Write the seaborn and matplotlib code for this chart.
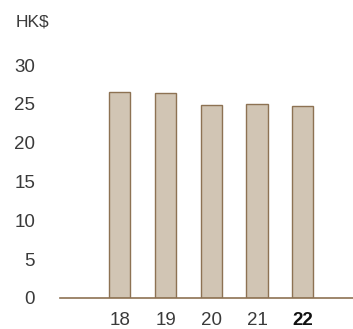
import matplotlib
matplotlib.use("Agg")
import matplotlib.pyplot as plt
import seaborn as sns
import pandas as pd

years = ["18", "19", "20", "21", "22"]
values = [26.5, 26.4, 24.8, 25.0, 24.7]
y_ticks = [0, 5, 10, 15, 20, 25, 30]
unit = "HK$"

sns.set_style("white")
plt.rcParams["font.family"] = ["Liberation Sans", "DejaVu Sans"]

df = pd.DataFrame({"year": years, "value": values})

fig = plt.figure(figsize=(3.53, 3.29), dpi=100)
ax = fig.add_axes([60 / 353, 31 / 329, 293 / 353, 233 / 329])

sns.barplot(data=df, x="year", y="value", ax=ax, width=0.46,
            color="#d1c5b4", edgecolor="#8d7253", linewidth=1.0,
            saturation=1)

ax.set_xlim(-1.31, 5.1)
ax.set_ylim(0, 30)
ax.set_yticks(y_ticks)
ax.set_yticklabels([str(t) for t in y_ticks])
ax.set_xlabel("")
ax.set_ylabel("")
for s in ["top", "right", "left"]:
    ax.spines[s].set_visible(False)
ax.spines["bottom"].set_color("#8d7253")
ax.spines["bottom"].set_linewidth(1.2)
ax.tick_params(axis="both", length=0, labelsize=13.5, colors="#3a3a3a")
ax.tick_params(axis="y", pad=18)
ax.tick_params(axis="x", pad=10)
for lab in ax.get_xticklabels():
    if lab.get_text() == years[-1]:
        lab.set_fontweight("bold")
        lab.set_color("#111111")

fig.text(16 / 353, 1 - 22 / 329, unit, fontsize=12.5, color="#3a3a3a",
         ha="left", va="center")

fig.savefig("out.png", dpi=100)
